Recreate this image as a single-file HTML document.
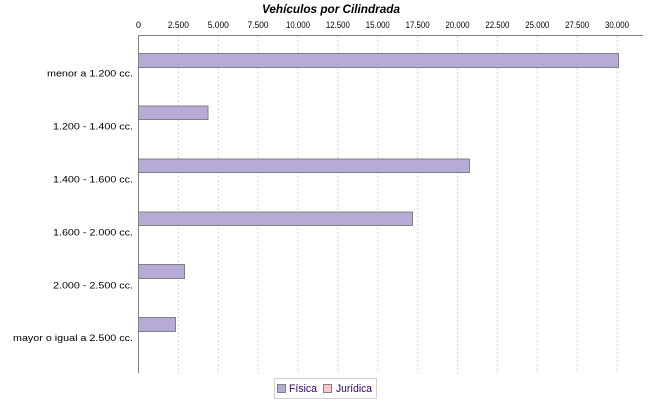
<!DOCTYPE html>
<html><head><meta charset="utf-8"><style>
html,body{margin:0;padding:0;background:#fff;}
svg{display:block;}
text{font-family:"Liberation Sans",sans-serif;}
</style></head><body>
<svg width="650" height="400" viewBox="0 0 650 400" xmlns="http://www.w3.org/2000/svg">
<rect width="650" height="400" fill="#fff"/>
<text x="331" y="13" font-size="12" font-weight="bold" font-style="italic" text-anchor="middle" textLength="138" lengthAdjust="spacingAndGlyphs" fill="#000">Vehículos por Cilindrada</text>
<g stroke="#d8d8d8" stroke-width="1" stroke-dasharray="2,2">
<line x1="178.4" y1="36" x2="178.4" y2="373"/>
<line x1="218.3" y1="36" x2="218.3" y2="373"/>
<line x1="258.1" y1="36" x2="258.1" y2="373"/>
<line x1="298" y1="36" x2="298" y2="373"/>
<line x1="337.9" y1="36" x2="337.9" y2="373"/>
<line x1="377.8" y1="36" x2="377.8" y2="373"/>
<line x1="417.6" y1="36" x2="417.6" y2="373"/>
<line x1="457.5" y1="36" x2="457.5" y2="373"/>
<line x1="497.4" y1="36" x2="497.4" y2="373"/>
<line x1="537.3" y1="36" x2="537.3" y2="373"/>
<line x1="577.1" y1="36" x2="577.1" y2="373"/>
<line x1="617" y1="36" x2="617" y2="373"/>
</g>
<g font-size="9" fill="#000" text-anchor="middle">
<text x="138.5" y="28">0</text>
<text x="178.4" y="28" textLength="21" lengthAdjust="spacingAndGlyphs">2.500</text>
<text x="218.3" y="28" textLength="21" lengthAdjust="spacingAndGlyphs">5.000</text>
<text x="258.1" y="28" textLength="21" lengthAdjust="spacingAndGlyphs">7.500</text>
<text x="298" y="28" textLength="24" lengthAdjust="spacingAndGlyphs">10.000</text>
<text x="337.9" y="28" textLength="24" lengthAdjust="spacingAndGlyphs">12.500</text>
<text x="377.8" y="28" textLength="24" lengthAdjust="spacingAndGlyphs">15.000</text>
<text x="417.6" y="28" textLength="24" lengthAdjust="spacingAndGlyphs">17.500</text>
<text x="457.5" y="28" textLength="24" lengthAdjust="spacingAndGlyphs">20.000</text>
<text x="497.4" y="28" textLength="24" lengthAdjust="spacingAndGlyphs">22.500</text>
<text x="537.3" y="28" textLength="24" lengthAdjust="spacingAndGlyphs">25.000</text>
<text x="577.1" y="28" textLength="24" lengthAdjust="spacingAndGlyphs">27.500</text>
<text x="617" y="28" textLength="24" lengthAdjust="spacingAndGlyphs">30.000</text>
</g>
<line x1="138" y1="35.5" x2="643" y2="35.5" stroke="#808080" stroke-width="1"/>
<line x1="138.5" y1="35" x2="138.5" y2="373" stroke="#808080" stroke-width="1"/>
<g fill="#b5abd6" stroke="#808080" stroke-width="1">
<rect x="138.5" y="53.5" width="480" height="14"/>
<rect x="138.5" y="106" width="69.5" height="13.5"/>
<rect x="138.5" y="159" width="331" height="13.5"/>
<rect x="138.5" y="212" width="274" height="13.5"/>
<rect x="138.5" y="264.5" width="46" height="14"/>
<rect x="138.5" y="317.5" width="37" height="14"/>
</g>
<g font-size="9" fill="#000" text-anchor="end">
<text x="133" y="76.5" textLength="86" lengthAdjust="spacingAndGlyphs">menor a 1.200 cc.</text>
<text x="133" y="129.5" textLength="80" lengthAdjust="spacingAndGlyphs">1.200 - 1.400 cc.</text>
<text x="133" y="182.5" textLength="80" lengthAdjust="spacingAndGlyphs">1.400 - 1.600 cc.</text>
<text x="133" y="235.5" textLength="80" lengthAdjust="spacingAndGlyphs">1.600 - 2.000 cc.</text>
<text x="133" y="288.5" textLength="80" lengthAdjust="spacingAndGlyphs">2.000 - 2.500 cc.</text>
<text x="133" y="341" textLength="120" lengthAdjust="spacingAndGlyphs">mayor o igual a 2.500 cc.</text>
</g>
<rect x="274.5" y="378.5" width="102" height="20" fill="#fff" stroke="#d0d0d0" stroke-width="1"/>
<rect x="277.5" y="384.5" width="8" height="8" fill="#b5abd6" stroke="#808080" stroke-width="1"/>
<text x="289" y="392" font-size="11" fill="#330066" textLength="28" lengthAdjust="spacingAndGlyphs">Física</text>
<rect x="323.5" y="384.5" width="8" height="8" fill="#ffc8c8" stroke="#808080" stroke-width="1"/>
<text x="336" y="392" font-size="11" fill="#330066" textLength="36" lengthAdjust="spacingAndGlyphs">Jurídica</text>
</svg>
</body></html>
